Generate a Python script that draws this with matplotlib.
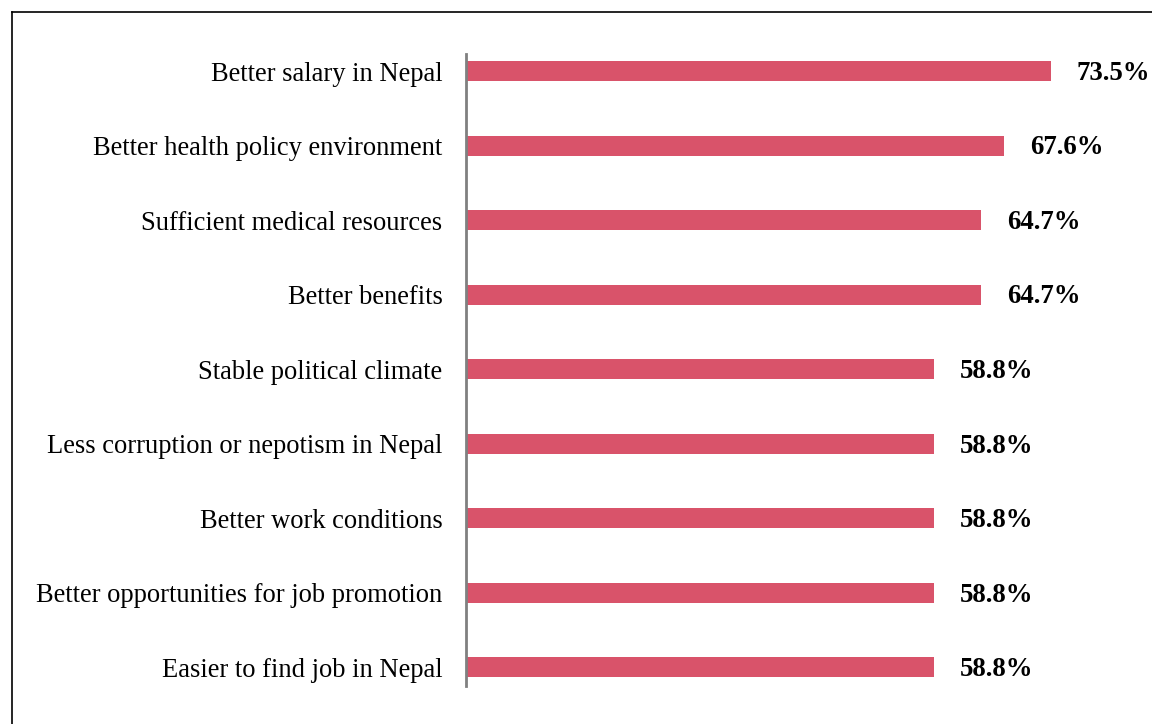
import matplotlib
matplotlib.use('Agg')
import matplotlib.pyplot as plt
from matplotlib.lines import Line2D

categories = [
    'Better salary in Nepal',
    'Better health policy environment',
    'Sufficient medical resources',
    'Better benefits',
    'Stable political climate',
    'Less corruption or nepotism in Nepal',
    'Better work conditions',
    'Better opportunities for job promotion',
    'Easier to find job in Nepal',
]
values = [73.5, 67.6, 64.7, 64.7, 58.8, 58.8, 58.8, 58.8, 58.8]
value_labels = ['73.5%', '67.6%', '64.7%', '64.7%', '58.8%', '58.8%', '58.8%', '58.8%', '58.8%']

W, H, DPI = 1152, 724, 100
BAR_COLOR = '#d9536a'

plt.rcParams['font.family'] = ['Liberation Serif', 'DejaVu Serif']

fig = plt.figure(figsize=(W / DPI, H / DPI), dpi=DPI)
ax = fig.add_axes([466 / W, 1 - 686 / H, 637 / W, 632 / H])

ypos = list(range(len(categories)))
ax.barh(ypos, values, height=0.27, color=BAR_COLOR, zorder=2)

ax.set_xlim(0, 80)
ax.set_ylim(8.25, -0.23)

for y, v, lab in zip(ypos, values, value_labels):
    ax.text(v + 3.2, y + 0.03, lab, ha='left', va='center', fontsize=19.3,
            fontweight='bold', color='black', clip_on=False)

ax.set_yticks(ypos)
ax.set_yticklabels(categories, fontsize=19.1)
ax.tick_params(axis='y', length=0, pad=17)
ax.set_xticks([])

for side in ['top', 'right', 'bottom']:
    ax.spines[side].set_visible(False)
ax.spines['left'].set_color('#808080')
ax.spines['left'].set_linewidth(2)

# outer frame, top and left edges only (the rest runs off the canvas)
fx, fy = 11.5 / W, 1 - 11.5 / H
fig.add_artist(Line2D([fx, 1.0], [fy, fy], color='black', lw=1.2, transform=fig.transFigure))
fig.add_artist(Line2D([fx, fx], [0.0, fy], color='black', lw=1.2, transform=fig.transFigure))

fig.savefig('out.png', dpi=DPI)
